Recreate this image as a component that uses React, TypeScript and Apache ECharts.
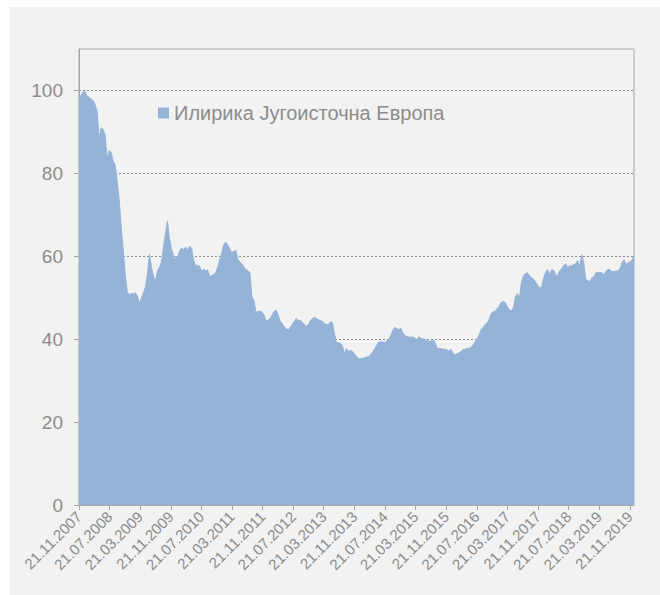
import React, { useEffect, useRef } from "react";
import * as echarts from "echarts";

// Series: fund index, sampled every 16 days starting at startDate
const seriesName = "Илирика Југоисточна Европа";
const startDate = "21.11.2007";
const stepDays = 16;
const values: number[] = [
  98.5, 98.8, 99.6, 99.8, 98.6, 98.4, 97.9, 97.6, 96.6, 95.0,
  88.5, 91.0, 90.6, 89.2, 83.5, 85.5, 85.0, 83.0, 82.0, 78.0,
  73.5, 67.0, 61.5, 55.6, 51.5, 50.6, 51.1, 50.9, 51.2, 50.5,
  48.6, 49.9, 51.1, 52.5, 55.5, 60.5, 57.5, 55.2, 54.0, 56.4,
  57.3, 58.6, 62.2, 65.5, 68.5, 64.2, 61.8, 60.2, 59.4, 59.8,
  61.2, 62.0, 61.6, 62.2, 61.4, 62.4, 62.0, 59.0, 57.7, 57.8,
  57.6, 56.4, 56.9, 56.5, 56.7, 55.0, 55.4, 55.6, 56.0, 57.4,
  59.2, 60.8, 62.8, 63.4, 62.7, 61.8, 60.9, 61.2, 61.4, 59.2,
  58.6, 58.2, 57.4, 56.8, 56.5, 56.1, 50.2, 49.4, 46.5, 46.6,
  46.8, 46.5, 45.9, 44.3, 44.6, 45.0, 45.8, 46.7, 47.0, 45.9,
  44.4, 43.8, 43.0, 42.5, 42.3, 42.8, 43.5, 44.2, 45.0, 44.5,
  44.6, 44.0, 43.6, 43.1, 43.4, 44.4, 44.9, 45.3, 45.0, 44.7,
  44.5, 44.3, 43.8, 43.6, 43.5, 44.2, 44.0, 41.5, 39.2, 39.1,
  39.0, 38.4, 36.4, 37.8, 37.0, 37.3, 37.0, 36.5, 35.8, 35.3,
  35.3, 35.4, 35.5, 35.7, 35.8, 36.3, 36.9, 37.6, 38.5, 39.3,
  39.4, 39.3, 39.2, 39.5, 40.0, 40.8, 42.0, 42.8, 42.6, 42.3,
  42.7, 41.6, 40.9, 40.7, 40.5, 40.5, 40.5, 40.2, 39.9, 40.6,
  40.2, 40.1, 40.0, 39.7, 39.5, 39.5, 39.8, 39.3, 37.8, 37.8,
  37.7, 37.6, 37.6, 37.4, 37.1, 37.6, 36.6, 36.2, 36.5, 36.7,
  37.1, 37.5, 37.6, 37.8, 37.8, 38.0, 38.6, 39.4, 40.2, 41.0,
  42.3, 42.9, 43.5, 44.0, 44.8, 46.2, 46.6, 46.8, 47.4, 48.0,
  48.9, 49.1, 48.8, 47.8, 47.1, 46.8, 47.6, 50.2, 51.0, 49.9,
  53.6, 55.3, 55.8, 56.0, 55.4, 54.9, 54.5, 53.8, 53.0, 52.4,
  52.5, 54.6, 56.0, 56.8, 55.6, 56.7, 56.6, 55.6, 55.2, 56.5,
  57.0, 57.8, 58.2, 57.3, 57.7, 57.7, 58.0, 58.2, 59.0, 57.5,
  60.4, 58.5, 54.3, 54.2, 53.8, 54.8, 55.0, 56.0, 56.1, 56.1,
  56.0, 55.6, 56.3, 56.8, 56.8, 56.2, 56.4, 56.4, 56.5, 57.0,
  58.4, 59.2, 58.0, 58.4, 58.7, 59.0, 60.2,
];

const xTickLabels = [
  "21.11.2007", "21.07.2008", "21.03.2009", "21.11.2009", "21.07.2010",
  "21.03.2011", "21.11.2011", "21.07.2012", "21.03.2013", "21.11.2013",
  "21.07.2014", "21.03.2015", "21.11.2015", "21.07.2016", "21.03.2017",
  "21.11.2017", "21.07.2018", "21.03.2019", "21.11.2019",
];
const yTickValues = [0, 20, 40, 60, 80, 100];
const yMax = 110;

const parseDate = (s: string) => {
  const [d, m, y] = s.split(".").map(Number);
  return Date.UTC(y, m - 1, d);
};

const DAY = 86400000;
const AREA_COLOR = "#95b3d7";
const TEXT_COLOR = "#8c8c8c";
const AXIS_COLOR = "#a6a6a6";
const FONT = "'Liberation Sans', Arial, sans-serif";

export default function App() {
  const ref = useRef<HTMLDivElement>(null);

  useEffect(() => {
    document.body.style.margin = "0";
    if (!ref.current) return;
    const chart = echarts.init(ref.current, undefined, { renderer: "svg" });
    const t0 = parseDate(startDate);
    const data = values.map((v, i) => [t0 + i * stepDays * DAY, v]);
    const tickVals = xTickLabels.map(parseDate);
    const labelMap: Record<number, string> = {};
    tickVals.forEach((t, i) => (labelMap[t] = xTickLabels[i]));

    chart.setOption({
      animation: false,
      backgroundColor: "#ffffff",
      textStyle: { fontFamily: FONT },
      graphic: [
        {
          type: "rect",
          z: -10,
          silent: true,
          shape: { x: 10, y: 7, width: 650, height: 588 },
          style: { fill: "#f2f2f2" },
        },
      ],
      grid: {
        left: 79,
        right: 26,
        top: 49,
        bottom: 90,
        show: true,
        borderColor: AXIS_COLOR,
        borderWidth: 1,
        backgroundColor: "transparent",
      },
      legend: {
        show: true,
        left: 158,
        top: 103,
        padding: 0,
        itemWidth: 11,
        itemHeight: 11,
        itemGap: 0,
        icon: "rect",
        data: [seriesName],
        textStyle: { color: TEXT_COLOR, fontSize: 20, fontFamily: FONT },
      },
      xAxis: {
        type: "value",
        min: t0,
        max: data[data.length - 1][0],
        splitLine: { show: false },
        axisLine: { show: true, lineStyle: { color: AXIS_COLOR, width: 1 } },
        axisTick: {
          show: true,
          length: 5,
          customValues: tickVals,
          lineStyle: { color: AXIS_COLOR },
        },
        axisLabel: {
          customValues: tickVals,
          rotate: 45,
          margin: 9,
          fontSize: 15,
          color: TEXT_COLOR,
          fontFamily: FONT,
          formatter: (v: number) => labelMap[v] ?? "",
        },
      },
      yAxis: {
        type: "value",
        min: 0,
        max: yMax,
        interval: 20,
        axisLine: { show: true, lineStyle: { color: AXIS_COLOR, width: 1 } },
        axisTick: {
          show: true,
          length: 5,
          customValues: yTickValues,
          lineStyle: { color: AXIS_COLOR },
        },
        axisLabel: {
          customValues: yTickValues,
          margin: 16,
          fontSize: 19,
          color: TEXT_COLOR,
          fontFamily: FONT,
        },
        splitLine: {
          show: true,
          lineStyle: { color: "#8c8c8c", type: [2, 2], width: 1 },
        },
      },
      series: [
        {
          name: seriesName,
          type: "line",
          data,
          symbol: "none",
          showSymbol: false,
          itemStyle: { color: AREA_COLOR },
          lineStyle: { color: AREA_COLOR, width: 1 },
          areaStyle: { color: AREA_COLOR, opacity: 1 },
        },
      ],
    });
    return () => chart.dispose();
  }, []);

  return <div ref={ref} style={{ width: 660, height: 595 }} />;
}
